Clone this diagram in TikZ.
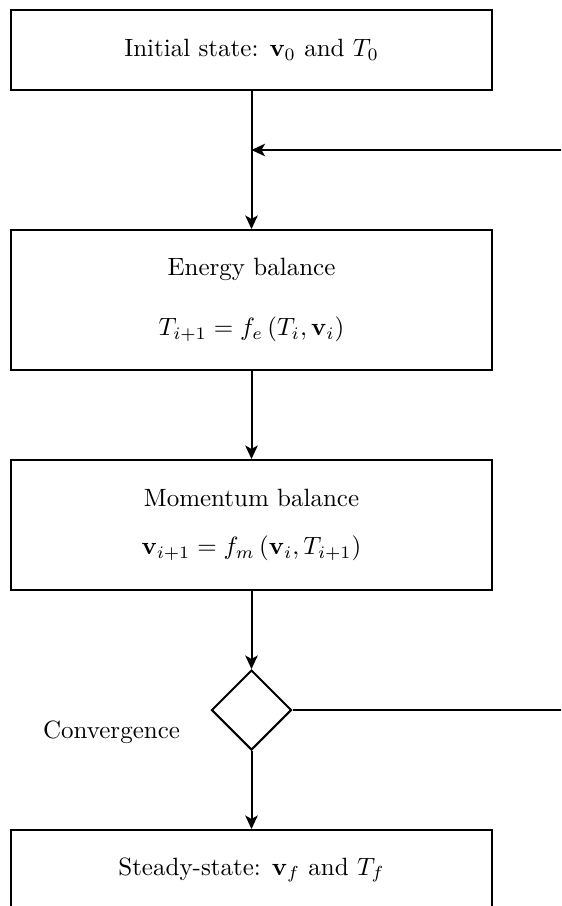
\documentclass[tikz,border=0pt]{standalone}
\usetikzlibrary{shapes.geometric,arrows.meta}
\tikzset{
  procbox/.style={draw, thick, rectangle, minimum width=192pt, inner sep=0pt, align=center},
  decbox/.style={draw, thick, diamond, minimum width=32pt, minimum height=32pt, inner sep=0pt},
  flow/.style={thick, -{Stealth[length=5.4pt,width=5pt,inset=1.4pt]}},
  plainline/.style={thick}
}
\begin{document}
\begin{tikzpicture}[x=0.4pt,y=-0.4pt]
\useasboundingbox (0,0) rectangle (561,906);
\clip (0,0) rectangle (561,906);
\node[procbox, minimum height=32pt] (init) at (251.5,50) {Initial state: $\mathbf{v}_0$ and $T_0$};
\node[procbox, minimum height=56pt] (energy) at (251.5,300) {Energy balance\\[12pt]$T_{i+1}=f_e\left(T_i,\mathbf{v}_i\right)$};
\node[procbox, minimum height=52pt] (momentum) at (251.5,525) {Momentum balance\\[7pt]$\mathbf{v}_{i+1}=f_m\left(\mathbf{v}_i,T_{i+1}\right)$};
\node[decbox] (conv) at (251.5,710) {};
\node (convlabel) at (111.5,732) {Convergence};
\node[procbox, minimum height=32pt] (steady) at (251.5,870) {Steady-state: $\mathbf{v}_f$ and $T_f$};
\coordinate (back) at (565,150);
\coordinate (out) at (565,710);
\draw[flow] (init.south) -- (energy.north);
\draw[flow] (back) -- (back -| init.south);
\draw[flow] (energy.south) -- (momentum.north);
\draw[flow] (momentum.south) -- (conv.north);
\draw[plainline] (conv.east) -- (out);
\draw[flow] (conv.south) -- (steady.north);
\end{tikzpicture}
\end{document}
